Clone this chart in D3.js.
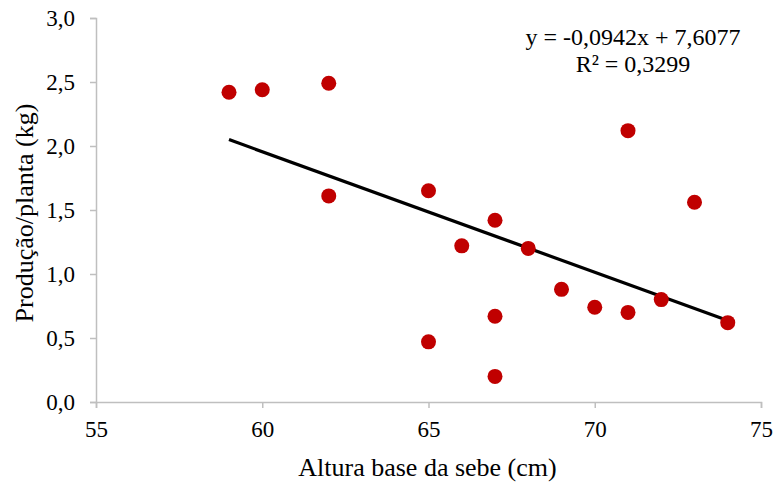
<!DOCTYPE html>
<html><head><meta charset="utf-8">
<script src="https://cdn.jsdelivr.net/npm/d3@7"></script>
<style>body{margin:0;background:#fff}svg{display:block}text{font-family:"Liberation Serif","Times New Roman",serif;fill:#000}</style>
</head><body><div id="chart"></div>
<script>
const alturas = [59,60,62,62,65,65,66,67,67,67,68,69,70,71,71,72,73,74];
const producao = [2.42,2.44,2.49,1.61,1.65,0.47,1.22,1.42,0.67,0.20,1.20,0.88,0.74,2.12,0.70,0.80,1.56,0.62];
const xTicks = [55,60,65,70,75];
const yTicks = [0,0.5,1,1.5,2,2.5,3];
const trendSlope = -0.0942, trendIntercept = 7.6077;
const trendRange = [59,74];
const eqLines = ["y = -0,0942x + 7,6077","R² = 0,3299"];

const W=775,H=486;
const svg=d3.select("#chart").append("svg").attr("width",W).attr("height",H);
const x=d3.scaleLinear().domain([55,75]).range([96,761]);
const y=d3.scaleLinear().domain([0,3]).range([402,18]);
const fmt=d=>d3.format(".1f")(d).replace(".",",");
const axisColor="#bfbfbf";

const gx=svg.append("g").attr("transform","translate(0,402)")
  .call(d3.axisBottom(x).tickValues(xTicks).tickSize(6).tickPadding(13).tickFormat(d=>d));
const gy=svg.append("g").attr("transform","translate(96,0)")
  .call(d3.axisLeft(y).tickValues(yTicks).tickSize(6).tickPadding(15).tickFormat(fmt));
[gx,gy].forEach(g=>{
  g.selectAll("path,line").attr("stroke",axisColor).attr("stroke-width",1.5);
  g.selectAll("text").style("font-family","Liberation Serif").style("font-size","23px").attr("fill","#000");
});

svg.append("line")
  .attr("x1",x(trendRange[0])).attr("y1",y(trendSlope*trendRange[0]+trendIntercept))
  .attr("x2",x(trendRange[1])).attr("y2",y(trendSlope*trendRange[1]+trendIntercept))
  .attr("stroke","#000").attr("stroke-width",3.2);

svg.append("g").selectAll("circle").data(alturas).join("circle")
  .attr("cx",d=>x(d)).attr("cy",(d,i)=>y(producao[i])).attr("r",7.5).attr("fill","#c00000");

svg.append("g").selectAll("text").data(eqLines).join("text")
  .attr("x",633).attr("y",(d,i)=>45+i*27).attr("text-anchor","middle")
  .style("font-size","24px").text(d=>d);

svg.append("text").attr("x",427.5).attr("y",476).attr("text-anchor","middle")
  .style("font-size","26px").text("Altura base da sebe (cm)");
svg.append("text").attr("transform","translate(33,213) rotate(-90)").attr("text-anchor","middle")
  .style("font-size","26px").text("Produção/planta (kg)");
</script></body></html>
